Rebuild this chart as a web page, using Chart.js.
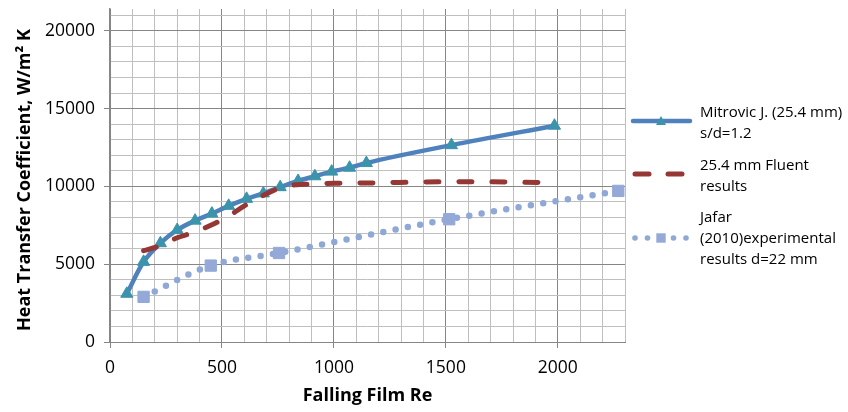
<!DOCTYPE html>
<html>
<head>
<meta charset="utf-8">
<script src="https://cdn.jsdelivr.net/npm/chart.js@4.4.1/dist/chart.umd.min.js"></script>
<style>
html,body{margin:0;padding:0;background:#fff;}
#wrap{position:relative;width:848px;height:412px;overflow:hidden;}
#c{position:absolute;left:0;top:0;}
#lgsvg{position:absolute;left:0;top:0;}
.lg{position:absolute;left:700px;font-family:'Open Sans',sans-serif;font-size:15px;line-height:21px;color:#000;white-space:nowrap;}
</style>
</head>
<body>
<div id="wrap">
<canvas id="c" width="848" height="412"></canvas>
<svg id="lgsvg" width="848" height="412" xmlns="http://www.w3.org/2000/svg">
  <line x1="633" y1="121" x2="690" y2="121" stroke="#4F81BD" stroke-width="4.5" stroke-linecap="round"/>
  <polygon points="661,116 666,125 656,125" fill="#3B94AC"/>
  <line x1="635" y1="174" x2="649" y2="174" stroke="#953735" stroke-width="5" stroke-linecap="round"/>
  <line x1="668" y1="174" x2="682" y2="174" stroke="#953735" stroke-width="5" stroke-linecap="round"/>
  <circle cx="635" cy="238" r="2.8" fill="#8FA8D6"/>
  <circle cx="647.5" cy="238" r="2.8" fill="#8FA8D6"/>
  <rect x="656.3" y="233.3" width="9.4" height="9.4" fill="#94A9D7"/>
  <circle cx="673.5" cy="238" r="2.8" fill="#8FA8D6"/>
  <circle cx="686" cy="238" r="2.8" fill="#8FA8D6"/>
</svg>
<div class="lg" style="top:101px">Mitrovic J. (25.4 mm)<br>s/d=1.2</div>
<div class="lg" style="top:154px">25.4 mm Fluent<br>results</div>
<div class="lg" style="top:206px">Jafar<br>(2010)experimental<br>results d=22 mm</div>
</div>
<script>
// ---- data ----
const mitrovicRe = [75, 150, 225, 300, 380, 455, 530, 610, 685, 760, 840, 915, 990, 1070, 1145, 1525, 1985];
const mitrovicH  = [3100, 5150, 6350, 7200, 7800, 8250, 8750, 9200, 9550, 9950, 10350, 10650, 10950, 11200, 11500, 12650, 13900];

const fluentRe = [150, 225, 300, 375, 450, 525, 600, 675, 750, 825, 900, 1000, 1200, 1400, 1600, 1800, 1980];
const fluentH  = [5870, 6200, 6700, 7050, 7500, 8050, 8750, 9350, 9850, 10100, 10150, 10200, 10230, 10280, 10300, 10280, 10230];

const jafarRe = [150, 450, 755, 1515, 2270];
const jafarH  = [2900, 4910, 5720, 7890, 9710];

const xTickLabels = [0, 500, 1000, 1500, 2000];
const yTickLabels = [0, 5000, 10000, 15000, 20000];

const seriesNames = ['Mitrovic J. (25.4 mm) s/d=1.2', '25.4 mm Fluent results', 'Jafar (2010)experimental results d=22 mm'];
const xTitle = 'Falling Film Re';
const yTitle = 'Heat Transfer Coefficient, W/m\u00B2 K\u2002';

// ---- chart ----
const toPts = (xs, ys) => xs.map((x, i) => ({x: x, y: ys[i]}));
const xGrid = []; for (let v = 0; v <= 2300; v += 100) xGrid.push(v);
const yGrid = []; for (let v = 0; v <= 21000; v += 1000) yGrid.push(v);

const MAJOR = '#868686', MINOR = '#BFBFBF';

Chart.defaults.font.family = "'Open Sans', sans-serif";
Chart.defaults.color = '#000';

const noPad = s => { s.paddingTop = 0; s.paddingBottom = 0; s.paddingLeft = 0; s.paddingRight = 0; };

new Chart(document.getElementById('c'), {
  type: 'line',
  data: {
    datasets: [
      {
        label: seriesNames[0],
        data: toPts(mitrovicRe, mitrovicH),
        borderColor: '#4F81BD',
        borderWidth: 4.5,
        backgroundColor: '#3B94AC',
        pointStyle: 'triangle',
        pointRadius: 7,
        pointBackgroundColor: '#3B94AC',
        pointBorderColor: '#3B94AC',
        pointBorderWidth: 1,
        cubicInterpolationMode: 'monotone',
        fill: false,
        order: 3
      },
      {
        label: seriesNames[1],
        data: toPts(fluentRe, fluentH),
        borderColor: '#953735',
        borderWidth: 5,
        borderDash: [13, 20],
        borderCapStyle: 'round',
        pointRadius: 0,
        cubicInterpolationMode: 'monotone',
        fill: false,
        order: 2
      },
      {
        label: seriesNames[2],
        data: toPts(jafarRe, jafarH),
        borderColor: '#8FA8D6',
        borderWidth: 6.5,
        borderDash: [0, 12.5],
        borderCapStyle: 'round',
        pointStyle: 'rect',
        pointRadius: 8,
        pointBackgroundColor: '#94A9D7',
        pointBorderColor: '#94A9D7',
        pointBorderWidth: 1,
        cubicInterpolationMode: 'monotone',
        fill: false,
        order: 1
      }
    ]
  },
  options: {
    responsive: false,
    animation: false,
    events: [],
    layout: {padding: {top: 9, right: 223, left: 0, bottom: 0}},
    plugins: {legend: {display: false}, tooltip: {enabled: false}},
    scales: {
      x: {
        type: 'linear',
        min: 0, max: 2300,
        afterBuildTicks: s => { s.ticks = xGrid.map(v => ({value: v})); },
        afterFit: s => { s.height = 70; noPad(s); },
        ticks: {
          autoSkip: false, maxRotation: 0, padding: 10,
          font: {size: 17.5},
          callback: v => xTickLabels.includes(v) ? String(v) : ''
        },
        grid: {
          color: c => (c.tick && c.tick.value % 500 === 0) ? MAJOR : MINOR,
          tickColor: c => (c.tick && c.tick.value % 500 === 0) ? MAJOR : 'rgba(0,0,0,0)',
          tickLength: 6,
          lineWidth: 1
        },
        border: {display: true, color: MAJOR, width: 1},
        title: {display: true, text: xTitle, font: {size: 18, weight: 'bold'}, padding: {top: 0, bottom: 5}}
      },
      y: {
        type: 'linear',
        min: 0, max: 21400,
        afterBuildTicks: s => { s.ticks = yGrid.map(v => ({value: v})); },
        afterFit: s => { s.width = 110; noPad(s); },
        ticks: {
          autoSkip: false, padding: 9,
          font: {size: 17.5},
          callback: v => yTickLabels.includes(v) ? String(v) : ''
        },
        grid: {
          color: c => (c.tick && c.tick.value % 5000 === 0) ? MAJOR : MINOR,
          tickColor: c => (c.tick && c.tick.value % 5000 === 0) ? MAJOR : 'rgba(0,0,0,0)',
          tickLength: 6,
          lineWidth: 1
        },
        border: {display: true, color: MAJOR, width: 1.5},
        title: {display: true, text: yTitle, font: {size: 18, weight: 'bold'}, padding: {top: 14, bottom: 0}}
      }
    }
  }
});
</script>
</body>
</html>
